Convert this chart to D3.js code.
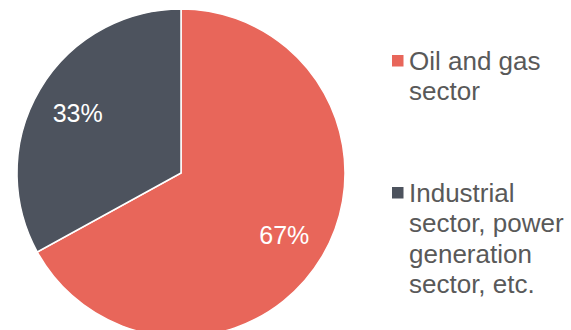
<!DOCTYPE html>
<html>
<head>
<meta charset="utf-8">
<script src="https://cdn.jsdelivr.net/npm/d3@7"></script>
<style>
  body { margin: 0; background: #fff; }
  text { font-family: "Liberation Sans", Arial, sans-serif; }
</style>
</head>
<body>
<div id="viz"></div>
<script>
var categories = ["Oil and gas sector", "Industrial sector, power generation sector, etc."];
var values = [67, 33];
var labels = ["67%", "33%"];
var colors = ["#E8665A", "#4D535E"];
var legendLines = [["Oil and gas", "sector"], ["Industrial", "sector, power", "generation", "sector, etc."]];

var width = 571, height = 330;
var cx = 181, cy = 173, radius = 164;

var svg = d3.select("#viz").append("svg")
  .attr("width", width)
  .attr("height", height);

var pie = d3.pie().sort(null).value(function (d) { return d; });
var arc = d3.arc().innerRadius(0).outerRadius(radius);
var labelArc = d3.arc().innerRadius(120).outerRadius(120);

var g = svg.append("g").attr("transform", "translate(" + cx + "," + cy + ")");
var arcs = pie(values);

g.selectAll("path")
  .data(arcs)
  .enter().append("path")
  .attr("d", arc)
  .attr("fill", function (d, i) { return colors[i]; })
  .attr("stroke", "#fff")
  .attr("stroke-width", 1.5);

g.selectAll("text.lbl")
  .data(arcs)
  .enter().append("text")
  .attr("class", "lbl")
  .attr("x", function (d) { return labelArc.centroid(d)[0]; })
  .attr("y", function (d) { return labelArc.centroid(d)[1] + 10; })
  .attr("text-anchor", "middle")
  .attr("fill", "#fff")
  .style("font-size", "25px")
  .text(function (d, i) { return labels[i]; });

// legend
var legendY = [70, 202];
var legend = svg.selectAll("g.leg")
  .data(categories)
  .enter().append("g")
  .attr("class", "leg")
  .attr("transform", function (d, i) { return "translate(392," + legendY[i] + ")"; });

legend.append("rect")
  .attr("x", 0).attr("y", -15)
  .attr("width", 11.5).attr("height", 11.5)
  .attr("fill", function (d, i) { return colors[i]; });

legend.append("text")
  .attr("fill", "#595959")
  .style("font-size", "26px")
  .selectAll("tspan")
  .data(function (d, i) { return legendLines[i]; })
  .enter().append("tspan")
  .attr("x", 17)
  .attr("y", function (d, j) { return j * 30.3; })
  .text(function (d) { return d; });
</script>
</body>
</html>
